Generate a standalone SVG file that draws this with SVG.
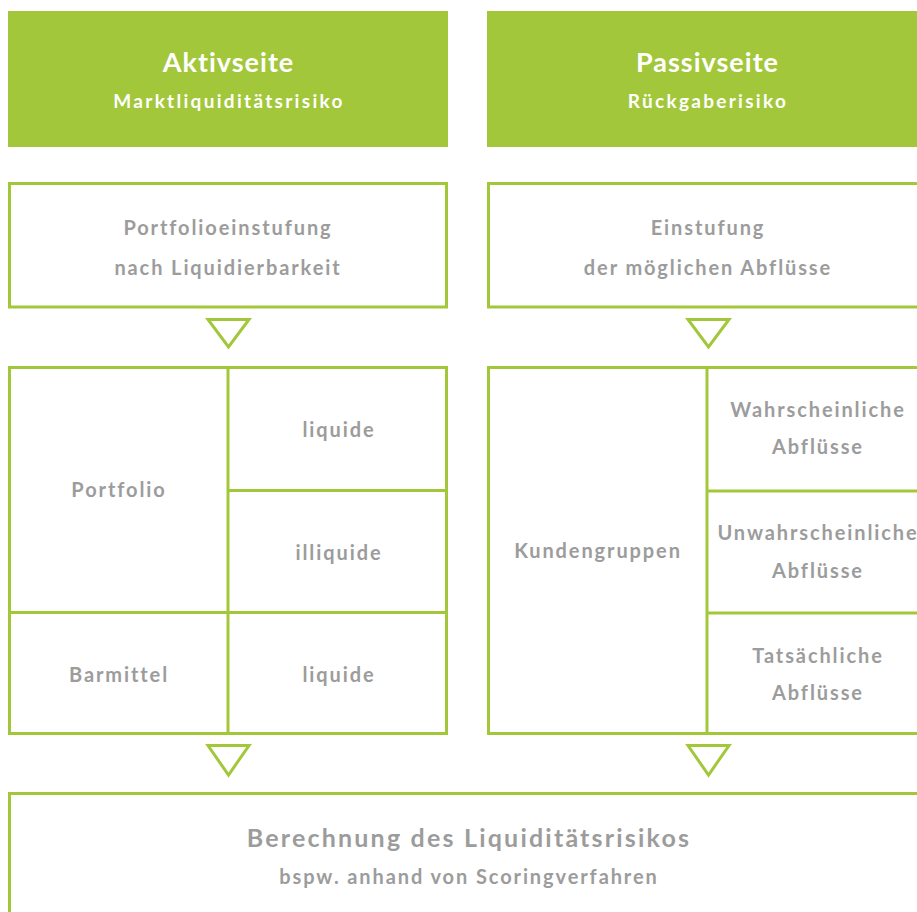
<svg xmlns="http://www.w3.org/2000/svg" width="917" height="912" viewBox="0 0 917 912">
  <style>
    .head { fill: #a3c73a; }
    .box { fill: #ffffff; stroke: #a3c73a; stroke-width: 3; }
    .div { stroke: #a3c73a; stroke-width: 3; fill: none; }
    .tri { fill: #ffffff; stroke: #a3c73a; stroke-width: 3; stroke-linejoin: miter; }
    text { font-family: Lato, "Open Sans", "Liberation Sans", sans-serif; font-weight: 700; text-anchor: middle; }
    .ht { fill: #ffffff; font-size: 27px; letter-spacing: 1px; }
    .hs { fill: #ffffff; font-size: 19px; letter-spacing: 2.3px; }
    .lb { fill: #9c9c9c; font-size: 20px; letter-spacing: 1.9px; }
    .big { fill: #9c9c9c; font-size: 25px; letter-spacing: 2.2px; }
  </style>
  <rect width="917" height="912" fill="#ffffff"/>

  <!-- column headers -->
  <g id="header-aktiv">
    <rect class="head" x="8" y="11" width="440" height="136"/>
    <text class="ht" x="228.5" y="72">Aktivseite</text>
    <text class="hs" x="229" y="108">Marktliquiditätsrisiko</text>
  </g>
  <g id="header-passiv">
    <rect class="head" x="487" y="11" width="440" height="136"/>
    <text class="ht" x="707.5" y="72">Passivseite</text>
    <text class="hs" x="708" y="108">Rückgaberisiko</text>
  </g>

  <!-- classification step -->
  <g id="einstufung-aktiv">
    <rect class="box" x="9.5" y="183.5" width="437" height="123.5"/>
    <text class="lb" x="228" y="235">Portfolioeinstufung</text>
    <text class="lb" x="228" y="275">nach Liquidierbarkeit</text>
  </g>
  <g id="einstufung-passiv">
    <rect class="box" x="488.5" y="183.5" width="440" height="123.5"/>
    <text class="lb" x="708" y="235">Einstufung</text>
    <text class="lb" x="708" y="275">der möglichen Abflüsse</text>
  </g>

  <!-- asset-side matrix -->
  <g id="matrix-aktiv">
    <rect class="box" x="9.5" y="367.5" width="437" height="366"/>
    <path class="div" d="M228 367.5V733.5M228 490.5H446.5M9.5 612.5H446.5"/>
    <text class="lb" x="119" y="497">Portfolio</text>
    <text class="lb" x="339" y="437">liquide</text>
    <text class="lb" x="339" y="560">illiquide</text>
    <text class="lb" x="119" y="682">Barmittel</text>
    <text class="lb" x="339" y="682">liquide</text>
  </g>

  <!-- liability-side matrix -->
  <g id="matrix-passiv">
    <rect class="box" x="488.5" y="367.5" width="440" height="366"/>
    <path class="div" d="M707 367.5V733.5M707 491H928.5M707 613H928.5"/>
    <text class="lb" x="598" y="558">Kundengruppen</text>
    <text class="lb" x="818" y="417">Wahrscheinliche</text>
    <text class="lb" x="818" y="454">Abflüsse</text>
    <text class="lb" x="818" y="540">Unwahrscheinliche</text>
    <text class="lb" x="818" y="578">Abflüsse</text>
    <text class="lb" x="818" y="663">Tatsächliche</text>
    <text class="lb" x="818" y="700">Abflüsse</text>
  </g>

  <!-- result -->
  <g id="berechnung">
    <rect class="box" x="9.5" y="793.5" width="920" height="130"/>
    <text class="big" x="469" y="847">Berechnung des Liquiditätsrisikos</text>
    <text class="lb" x="469" y="884">bspw. anhand von Scoringverfahren</text>
  </g>

  <!-- downward flow markers -->
  <g id="connectors">
    <path class="tri" d="M208 319.5H249L228.5 347Z"/>
    <path class="tri" d="M688 319.5H729L708.5 347Z"/>
    <path class="tri" d="M208 745.5H249L228.5 775Z"/>
    <path class="tri" d="M688 745.5H729L708.5 775Z"/>
  </g>
</svg>
